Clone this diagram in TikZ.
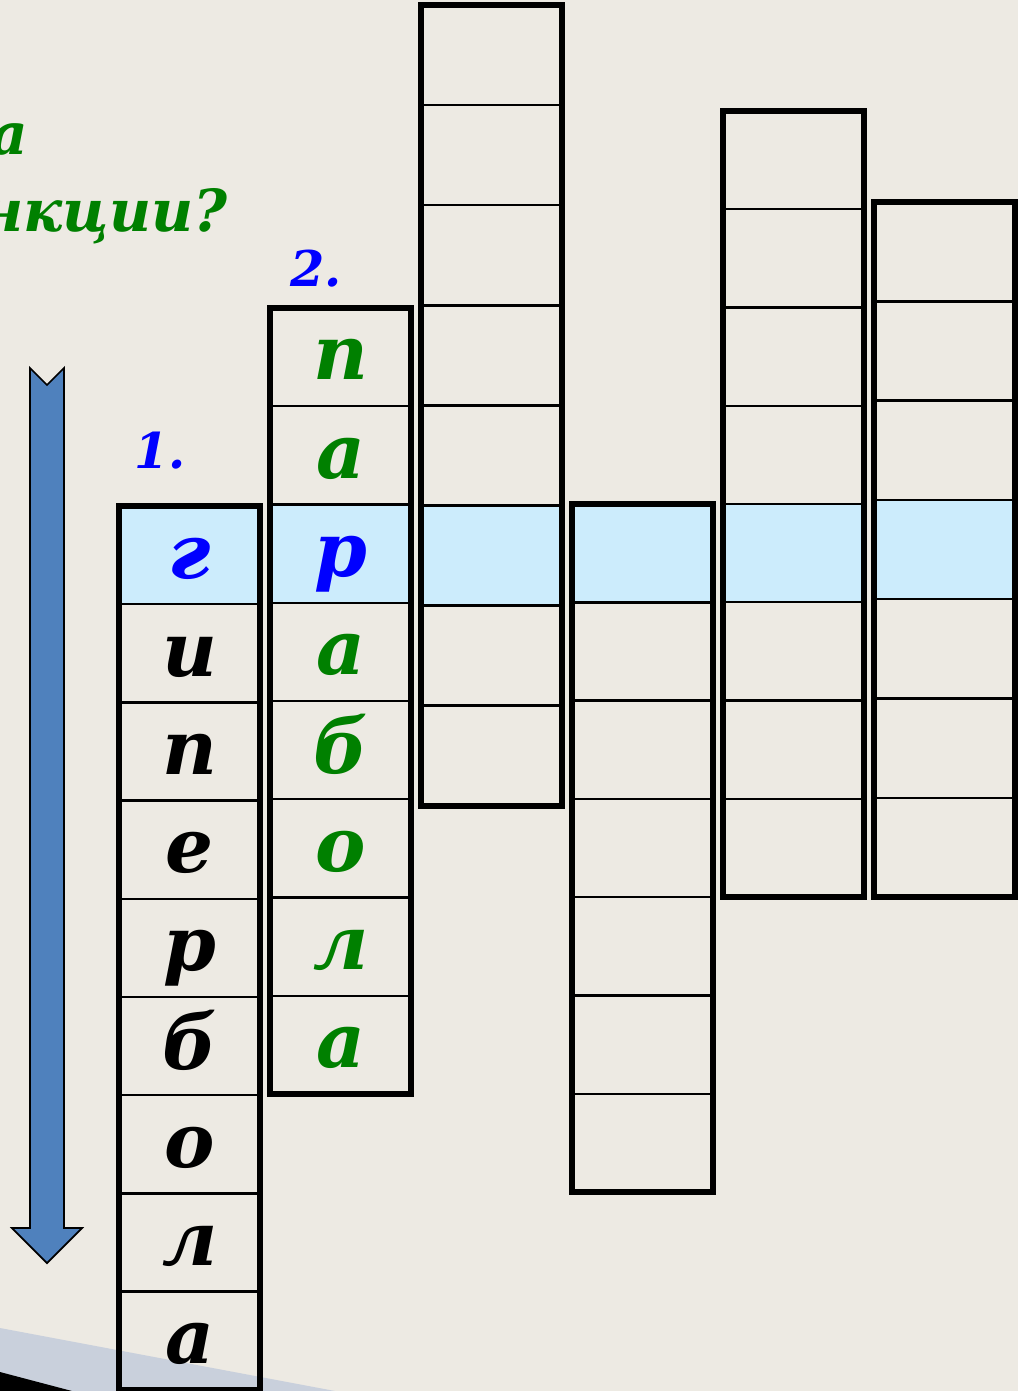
\documentclass[tikz,border=0pt]{standalone}
\usepackage{fontspec}
\setmainfont{DejaVu Serif}
\usetikzlibrary{positioning}
\definecolor{paper}{RGB}{237,234,227}
\definecolor{cellblue}{RGB}{204,236,252}
\definecolor{wordgreen}{RGB}{0,128,0}
\definecolor{numblue}{RGB}{0,0,255}
\definecolor{arrowblue}{RGB}{79,129,189}
\definecolor{bandgrey}{RGB}{201,208,220}

\begin{document}
\begin{tikzpicture}[x=0.02cm,y=-0.02cm,
    letter/.style={font=\fontsize{43}{48}\selectfont\bfseries\itshape,anchor=base,inner sep=0pt},
    question/.style={font=\fontsize{33}{40}\selectfont\bfseries\itshape,anchor=base east,inner sep=0pt,wordgreen},
    number/.style={font=\fontsize{28}{32}\selectfont\bfseries\itshape,anchor=base,inner sep=0pt,numblue},
    frame/.style={line width=3.2pt},
    rule/.style={line width=1.4pt}]
    % background
    \fill[paper] (0,0) rectangle (1018,1391);
    \useasboundingbox (0,0) rectangle (1018,1391);
    % corner of the slide
    \fill[bandgrey] (0,1328) -- (335,1391) -- (0,1391) -- cycle;
    \fill[black] (0,1372) -- (72,1391) -- (0,1391) -- cycle;
    % question, cut at the left
    \node[question] (q1) at (28,155) {а};
    \node[question] (q2) at (228,232) {нкции?};
    % reading direction
    \filldraw[fill=arrowblue,draw=black,line width=1pt] (30,368) -- (47,385) -- (64,368) -- (64,1228) -- (82,1228) -- (47,1263) -- (12,1228) -- (30,1228) -- cycle;
    % columns: left/top/rows/row height/marked row
    \foreach \x/\y/\n/\h/\hl in {119/506/9/98.2/1, 270/308/8/98.25/3, 421/5/8/100.1/6, 572/504/7/98.3/1, 723/111/8/98.25/5, 874/202/7/99.3/4} {
        \fill[cellblue] (\x,{\y+(\hl-1)*\h}) rectangle (\x+141,{\y+\hl*\h});
        \foreach \k in {2,...,\n}
            \draw[rule] (\x,{\y+(\k-1)*\h}) -- (\x+141,{\y+(\k-1)*\h});
        \draw[frame] (\x,\y) rectangle (\x+141,{\y+\n*\h});
    }
    % word 1
    \node[number] (n1) at (160,468) {1.};
    \foreach \l/\c [count=\i] in {г/numblue,и/black,п/black,е/black,р/black,б/black,о/black,л/black,а/black}
        \node[letter,\c] (w1-\i) at (190,{506+(\i-1)*98.2+72}) {\l};
    % word 2
    \node[number] (n2) at (316,287) {2.};
    \foreach \l/\c [count=\i] in {п/wordgreen,а/wordgreen,р/numblue,а/wordgreen,б/wordgreen,о/wordgreen,л/wordgreen,а/wordgreen}
        \node[letter,\c] (w2-\i) at (341,{308+(\i-1)*98.25+72}) {\l};
\end{tikzpicture}
\end{document}
